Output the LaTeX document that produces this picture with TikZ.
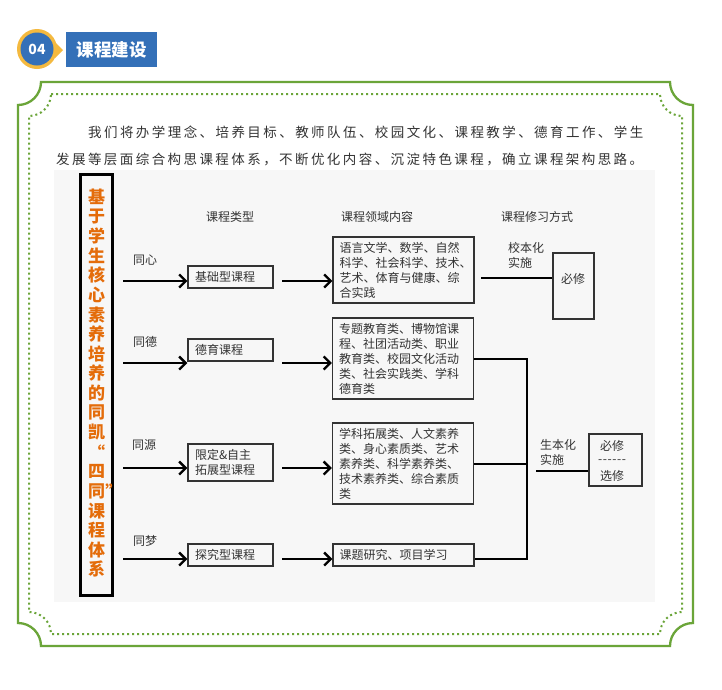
\documentclass[tikz,border=0pt]{standalone}
\usepackage{fontspec}
\setmainfont{Noto Sans CJK SC}
\newfontfamily\spaced[LetterSpace=18]{Noto Sans CJK SC}
\usetikzlibrary{arrows.meta}
\definecolor{frameG}{HTML}{6BA539}
\definecolor{badgeB}{HTML}{3470B8}
\definecolor{badgeO}{HTML}{F4B93F}
\definecolor{titleO}{HTML}{E46C0A}
\definecolor{txtc}{HTML}{333333}
\definecolor{boxc}{HTML}{333333}
\definecolor{panel}{HTML}{F7F7F7}
\newcommand{\hy}{-\kern0.6pt}
\begin{document}
\begin{tikzpicture}[x=1pt,y=-1pt,
  txt/.style={font=\fontsize{12}{15}\selectfont, text=txtc, inner sep=0pt},
  typebox/.style={draw=boxc, line width=1.2pt, minimum width=85pt, text width=71pt, inner xsep=7pt, inner ysep=0pt, align=left, font=\fontsize{12}{15}\selectfont, text=txtc},
  contbox/.style={draw=boxc, line width=1.2pt, minimum width=141pt, text width=128pt, inner xsep=6.5pt, inner ysep=0pt, align=left, font=\fontsize{12}{15}\selectfont, text=txtc},
  modebox/.style={draw=boxc, line width=1.2pt, inner sep=0pt},
  arr/.style={line width=2.3pt, -{Straight Barb[length=6.5pt,width=13pt,line width=2.4pt]}},
  conn/.style={line width=2pt, black},
  vch/.style={font=\fontsize{17}{17}\bfseries\selectfont, text=titleO, inner sep=0pt}
]
\useasboundingbox (0,0) rectangle (722,689);
\fill[white] (0,0) rectangle (722,689);

% badge
\fill[badgeO] (55,42) -- (63,50) -- (55,58) -- cycle;
\fill[badgeO] (37,49) circle[radius=20];
\fill[badgeB] (37,49) circle[radius=16.5];
\node[font=\fontsize{14}{14}\bfseries\selectfont, text=white, inner sep=0pt] (num) at (37,49) {04};
\fill[badgeB] (66,32) rectangle (157,67);
\node[font=\fontsize{17.5}{18}\bfseries\selectfont, text=white, inner sep=0pt] (title) at (111.5,49.5) {课程建设};

% frames
\draw[frameG, line width=2.3pt] (41,82) -- (670,82) arc[start angle=180,end angle=90,radius=23]
  -- (693,623) arc[start angle=270,end angle=180,radius=23]
  -- (41,646) arc[start angle=0,end angle=-90,radius=23]
  -- (18,105) arc[start angle=90,end angle=0,radius=23] -- cycle;
\draw[frameG, line width=2pt, dash pattern=on 2pt off 3pt] (51,94) -- (660,94) arc[start angle=180,end angle=90,radius=22]
  -- (682,612) arc[start angle=270,end angle=180,radius=22]
  -- (51,634) arc[start angle=0,end angle=-90,radius=22]
  -- (29,116) arc[start angle=90,end angle=0,radius=22];

% paragraph
\node[anchor=west, inner sep=0pt, text=txtc, font=\spaced\fontsize{13.5}{14}\selectfont] (p1) at (88,132) {我们将办学理念、培养目标、教师队伍、校园文化、课程教学、德育工作、学生};
\node[anchor=west, inner sep=0pt, text=txtc, font=\spaced\fontsize{13.5}{14}\selectfont] (p2) at (56,159) {发展等层面综合构思课程体系，不断优化内容、沉淀特色课程，确立课程架构思路。};

% panel
\fill[panel] (54,170) rectangle (655,602);

% vertical title box
\draw[black, line width=2.7pt] (80.5,174.5) rectangle (112.5,595.5);
\foreach \c [count=\i from 0] in {基,于,学,生,核,心,素,养,培,养,的,同,凯,“,四,同,课,程,体,系}
  \node[vch] (v\i) at (96.5,197+19.6*\i) {\c};
\node[vch, anchor=west] (vq) at (v15.east) {”};

% headers
\node[txt] (h1) at (230,217) {课程类型};
\node[txt] (h2) at (377,217) {课程领域内容};
\node[txt] (h3) at (537,217) {课程修习方式};

% row labels
\node[txt] (r1) at (145,260) {同心};
\node[txt] (r2) at (145,342) {同德};
\node[txt] (r3) at (144,445) {同源};
\node[txt] (r4) at (145,541) {同梦};

% type boxes
\node[typebox, minimum height=22pt] (t1) at (230.5,277) {基础型课程};
\node[typebox, minimum height=22pt] (t2) at (230.5,350) {德育课程};
\node[typebox, minimum height=37pt] (t3) at (230.5,462.5) {限定\&自主\\拓展型课程};
\node[typebox, minimum height=22pt] (t4) at (230.5,555) {探究型课程};

% content boxes
\node[contbox, minimum height=66pt] (c1) at (403.5,270) {语言文学、数学、自然\\科学、社会科学、技术、\\艺术、体育与健康、综\\合实践};
\node[contbox, minimum height=81pt] (c2) at (403,358.5) {专题教育类、博物馆课\\程、社团活动类、职业\\教育类、校园文化活动\\类、社会实践类、学科\\德育类};
\node[contbox, minimum height=81pt] (c3) at (403,463.5) {学科拓展类、人文素养\\类、身心素质类、艺术\\素养类、科学素养类、\\技术素养类、综合素质\\类};
\node[contbox, minimum height=22pt] (c4) at (403.5,555) {课题研究、项目学习};

% arrow start coordinates
\coordinate (a1) at (123,281);
\coordinate (a2) at (123,363);
\coordinate (a3) at (123,468);
\coordinate (a4) at (123,559);
\coordinate (b1) at (282,281);
\coordinate (b2) at (282,363);
\coordinate (b3) at (282,468);
\coordinate (b4) at (282,559);
\draw[arr] (a1) -- (a1 -| t1.west);
\draw[arr] (a2) -- (a2 -| t2.west);
\draw[arr] (a3) -- (a3 -| t3.west);
\draw[arr] (a4) -- (a4 -| t4.west);
\draw[arr] (b1) -- (b1 -| c1.west);
\draw[arr] (b2) -- (b2 -| c2.west);
\draw[arr] (b3) -- (b3 -| c3.west);
\draw[arr] (b4) -- (b4 -| c4.west);

% mode boxes
\node[modebox, minimum width=41pt, minimum height=66pt] (m1) at (573.5,286) {};
\node[txt] (m1t) at (573,279) {必修};
\node[modebox, minimum width=53pt, minimum height=52pt] (m2) at (615.5,460) {};
\node[txt] (m2a) at (612,445.5) {必修};
\node[txt] (m2b) at (612,461.5) {\hy\hy\hy\hy\hy-};
\node[txt] (m2c) at (612,476) {选修};

\node[txt, align=left, anchor=north west] (k1) at (508,242) {校本化\\实施};
\node[txt, align=left, anchor=north west] (k2) at (540,439) {生本化\\实施};

% connectors
\coordinate (l1) at (481,278);
\draw[conn] (l1) -- (l1 -| m1.west);
\coordinate (j2) at (527,359);
\coordinate (j3) at (527,464);
\coordinate (j4) at (527,559);
\draw[conn] (c2.east |- j2) -- (j2) -- (j4) -- (c4.east |- j4);
\draw[conn] (c3.east |- j3) -- (j3);
\coordinate (g) at (536,471);
\draw[conn] (g) -- (g -| m2.west);
\end{tikzpicture}
\end{document}
